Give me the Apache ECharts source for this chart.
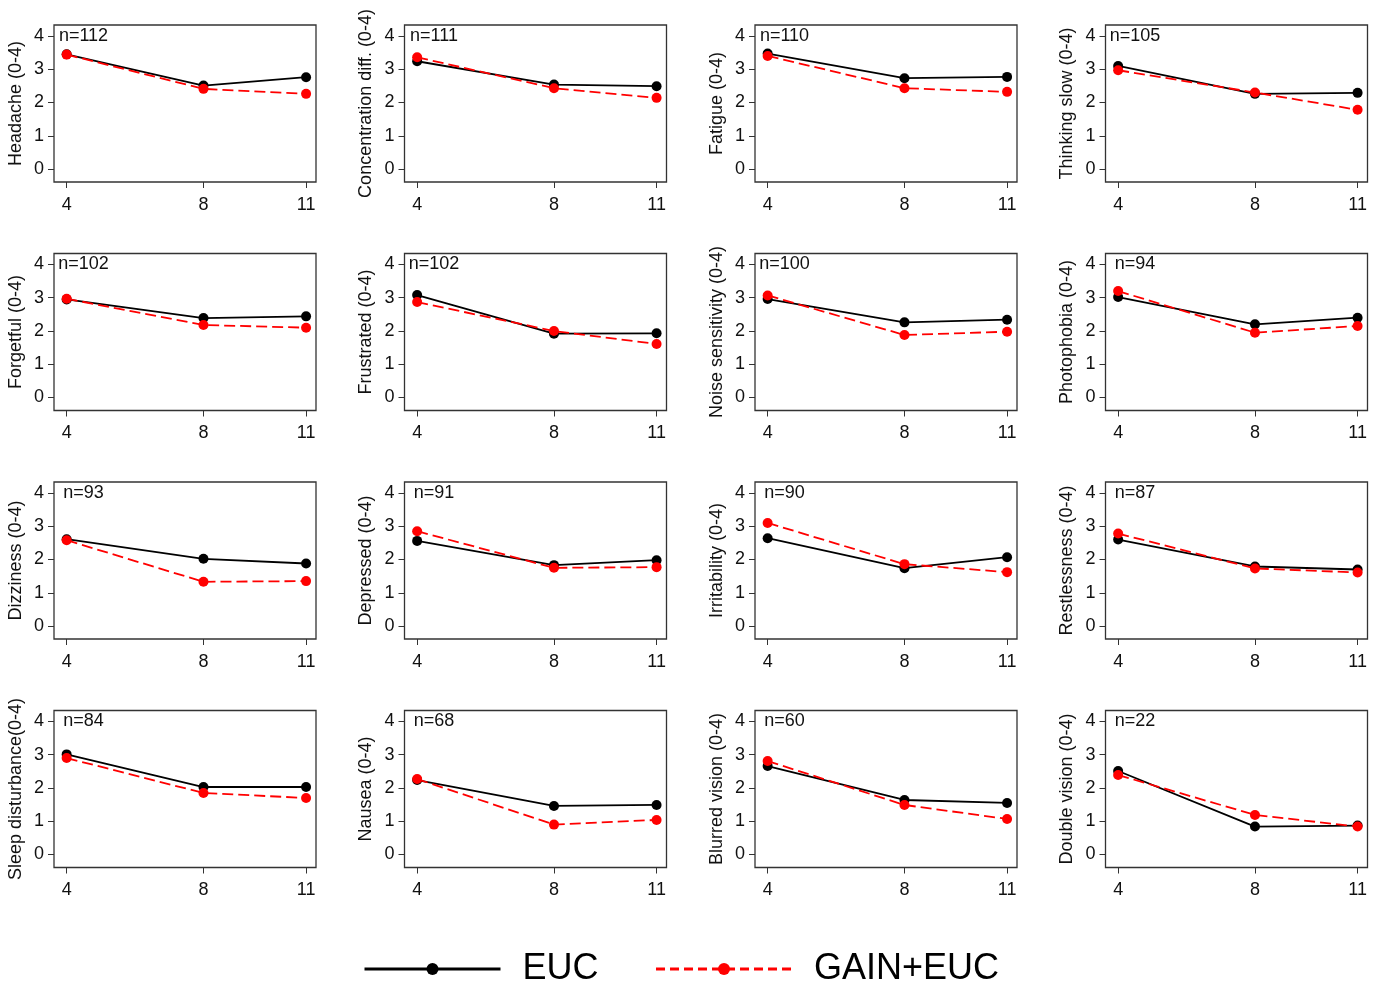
<!DOCTYPE html>
<html>
<head>
<meta charset="utf-8">
<script src="https://cdn.jsdelivr.net/npm/echarts@6/dist/echarts.min.js"></script>
<style>
html,body{margin:0;padding:0;background:#fff;}
#chart{width:1380px;height:988px;}
</style>
</head>
<body>
<div id="chart"></div>
<script>
// ---- data ----
const weeks = [4, 8, 11];
const xTicks = [4, 8, 11];
const yTicks = [0, 1, 2, 3, 4];
const symptoms = [
  'Headache (0-4)', 'Concentration diff. (0-4)', 'Fatigue (0-4)', 'Thinking slow (0-4)',
  'Forgetful (0-4)', 'Frustrated (0-4)', 'Noise sensitivity (0-4)', 'Photophobia (0-4)',
  'Dizziness (0-4)', 'Depressed (0-4)', 'Irritability (0-4)', 'Restlessness (0-4)',
  'Sleep disturbance(0-4)', 'Nausea (0-4)', 'Blurred vision (0-4)', 'Double vision (0-4)'
];
const nLabels = ['n=112','n=111','n=110','n=105','n=102','n=102','n=100','n=94',
                 'n=93','n=91','n=90','n=87','n=84','n=68','n=60','n=22'];
const eucValues = [
  [3.45, 2.51, 2.76], [3.24, 2.54, 2.49], [3.47, 2.73, 2.77], [3.10, 2.26, 2.29],
  [2.95, 2.39, 2.44], [3.08, 1.92, 1.93], [2.96, 2.26, 2.34], [3.02, 2.20, 2.40],
  [2.61, 2.02, 1.88], [2.56, 1.83, 1.98], [2.64, 1.74, 2.07], [2.60, 1.79, 1.70],
  [3.01, 2.03, 2.03], [2.24, 1.46, 1.49], [2.66, 1.64, 1.55], [2.51, 0.84, 0.87]
];
const gainValues = [
  [3.44, 2.41, 2.26], [3.36, 2.43, 2.14], [3.40, 2.43, 2.32], [2.97, 2.30, 1.78],
  [2.97, 2.18, 2.10], [2.87, 2.00, 1.61], [3.07, 1.88, 1.98], [3.20, 1.95, 2.15],
  [2.58, 1.33, 1.35], [2.85, 1.75, 1.77], [3.10, 1.86, 1.62], [2.78, 1.73, 1.61],
  [2.90, 1.85, 1.70], [2.27, 0.90, 1.04], [2.81, 1.49, 1.07], [2.39, 1.19, 0.84]
];
const seriesNames = ['EUC', 'GAIN+EUC'];

// ---- layout ----
const colLeft = [54, 404.5, 755, 1105.5];
const rowTop = [25, 253.5, 482, 710.5];
const boxW = 262, boxH = 157;
const font = 'Liberation Sans, Arial, sans-serif';

const grids = [], xAxes = [], yAxes = [], series = [], titles = [];
symptoms.forEach((name, i) => {
  const r = Math.floor(i / 4), c = i % 4;
  grids.push({
    left: colLeft[c], top: rowTop[r], width: boxW, height: boxH,
    show: true, borderColor: '#333', borderWidth: 1.3, backgroundColor: '#fff'
  });
  xAxes.push({
    type: 'value', gridIndex: i, min: 3.63, max: 11.29, position: 'bottom',
    axisLine: {show: false, onZero: false},
    splitLine: {show: false},
    axisTick: {show: true, length: 6, customValues: xTicks, lineStyle: {color: '#333', width: 1}},
    axisLabel: {show: true, customValues: xTicks, margin: 14, fontSize: 18, color: '#111', fontFamily: font}
  });
  yAxes.push({
    type: 'value', gridIndex: i, min: -0.39, max: 4.33, position: 'left',
    name: name, nameLocation: 'middle', nameGap: 29, nameRotate: 90,
    nameTextStyle: {fontSize: 18, color: '#111', fontFamily: font},
    axisLine: {show: false, onZero: false},
    splitLine: {show: false},
    axisTick: {show: true, length: 6, customValues: yTicks, lineStyle: {color: '#333', width: 1}},
    axisLabel: {show: true, customValues: yTicks, margin: 10, fontSize: 18, color: '#111', fontFamily: font}
  });
  series.push({
    name: seriesNames[0], type: 'line', xAxisIndex: i, yAxisIndex: i,
    data: weeks.map((w, k) => [w, eucValues[i][k]]),
    symbol: 'circle', symbolSize: 10,
    lineStyle: {color: '#000', width: 1.8},
    itemStyle: {color: '#000'},
    animation: false, z: 3
  });
  series.push({
    name: seriesNames[1], type: 'line', xAxisIndex: i, yAxisIndex: i,
    data: weeks.map((w, k) => [w, gainValues[i][k]]),
    symbol: 'circle', symbolSize: 10,
    lineStyle: {color: '#ff0000', width: 1.8, type: [11, 5]},
    itemStyle: {color: '#ff0000'},
    animation: false, z: 4
  });
  titles.push({
    text: nLabels[i], left: colLeft[c] + 29.5, top: rowTop[r] + 2, textAlign: 'center',
    padding: 0,
    textStyle: {fontSize: 18, fontWeight: 'normal', color: '#111', fontFamily: font}
  });
});

const chart = echarts.init(document.getElementById('chart'), null, {renderer: 'canvas'});
chart.setOption({
  animation: false,
  backgroundColor: '#fff',
  title: titles,
  grid: grids,
  xAxis: xAxes,
  yAxis: yAxes,
  series: series,
  legend: {
    left: 358, top: 946,
    itemWidth: 136, itemHeight: 15, itemGap: 56,
    textStyle: {fontSize: 36, color: '#000', fontFamily: font, padding: [0, 0, 0, 17]},
    data: [
      {name: 'EUC', itemStyle: {color: '#000'}, lineStyle: {color: '#000', width: 3}},
      {name: 'GAIN+EUC', itemStyle: {color: '#ff0000'}, lineStyle: {color: '#ff0000', width: 3, type: [9, 5]}}
    ]
  }
});
</script>
</body>
</html>
